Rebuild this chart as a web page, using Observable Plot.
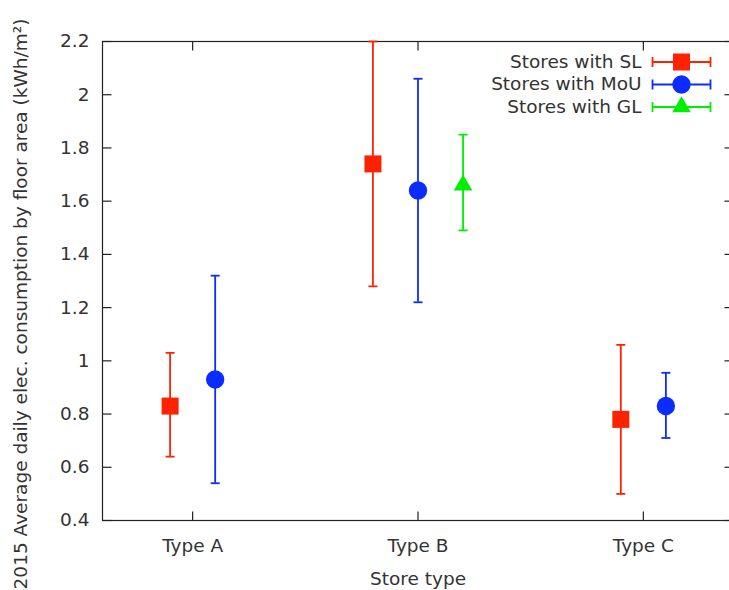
<!DOCTYPE html>
<html><head><meta charset="utf-8">
<script src="https://cdn.jsdelivr.net/npm/d3@7"></script>
<script src="https://cdn.jsdelivr.net/npm/@observablehq/plot@0.6"></script>
<style>
html,body{margin:0;padding:0;background:#fff;overflow:hidden}
</style></head><body><div id="chart"></div>
<script>
const categories = ["Type A", "Type B", "Type C"];
const seriesNames = ["Stores with SL", "Stores with MoU", "Stores with GL"];
const slMean = [0.83, 1.74, 0.78];
const slLow = [0.64, 1.28, 0.50];
const slHigh = [1.03, 2.20, 1.06];
const mouMean = [0.93, 1.64, 0.83];
const mouLow = [0.54, 1.22, 0.71];
const mouHigh = [1.32, 2.06, 0.955];
const glMean = [null, 1.66, null];
const glLow = [null, 1.49, null];
const glHigh = [null, 1.85, null];
const yTicks = [0.4, 0.6, 0.8, 1.0, 1.2, 1.4, 1.6, 1.8, 2.0, 2.2];
const yTickLabels = ["0.4", "0.6", "0.8", "1", "1.2", "1.4", "1.6", "1.8", "2", "2.2"];
const xLabel = "Store type";
const yLabel = "2015 Average daily elec. consumption by floor area (kWh/m²)";

const means = [slMean, mouMean, glMean];
const lows = [slLow, mouLow, glLow];
const highs = [slHigh, mouHigh, glHigh];
const colors = ["#ff2200", "#0a2cff", "#00ee00"];
const symbols = ["square", "circle", "triangle"];
const radii = [9.6, 9.2, 6.9];

// build rows; offset within each category derived from how many series it has
const rows = [];
categories.forEach((cat, c) => {
  const present = seriesNames.map((s, k) => k).filter(k => means[k][c] != null);
  present.forEach((k, j) => {
    rows.push({cat, series: k, x: c + 1 + (j - (present.length - 1) / 2) * 0.2,
      mean: means[k][c], low: lows[k][c], high: highs[k][c]});
  });
});

const xDomain = [0.6, 3.4];
const yDomain = [0.4, 2.2];
const T = 9;
const capSym = {draw(ctx) { ctx.moveTo(-4.5, 0); ctx.lineTo(4.5, 0); }};
const tickRight = {draw(ctx) { ctx.moveTo(0, 0); ctx.lineTo(T, 0); }};
const tickLeft = {draw(ctx) { ctx.moveTo(0, 0); ctx.lineTo(-T, 0); }};
const tickUp = {draw(ctx) { ctx.moveTo(0, 0); ctx.lineTo(0, -T); }};
const tickDown = {draw(ctx) { ctx.moveTo(0, 0); ctx.lineTo(0, T); }};
const legendBar = {draw(ctx) {
  ctx.moveTo(-29, 0); ctx.lineTo(29, 0);
  ctx.moveTo(-29, -5); ctx.lineTo(-29, 5);
  ctx.moveTo(29, -5); ctx.lineTo(29, 5);
}};

const marks = [
  Plot.frame({stroke: "#222", strokeWidth: 1.2}),
  Plot.dot(yTicks, {x: () => xDomain[0], y: d => d, symbol: tickRight, stroke: "#222", fill: "none", strokeWidth: 1.2}),
  Plot.dot(yTicks, {x: () => xDomain[1], y: d => d, symbol: tickLeft, stroke: "#222", fill: "none", strokeWidth: 1.2}),
  Plot.dot([1, 2, 3], {x: d => d, y: () => yDomain[0], symbol: tickUp, stroke: "#222", fill: "none", strokeWidth: 1.2}),
  Plot.dot([1, 2, 3], {x: d => d, y: () => yDomain[1], symbol: tickDown, stroke: "#222", fill: "none", strokeWidth: 1.2}),
  Plot.axisY(yTicks, {tickSize: 0, tickPadding: 13, tickFormat: (d, i) => yTickLabels[i], label: null}),
  Plot.axisX([1, 2, 3], {tickSize: 0, tickPadding: 18, tickFormat: d => categories[d - 1], label: null}),
  Plot.text([xLabel], {text: d => d, frameAnchor: "bottom", dy: 59, lineAnchor: "middle", textAnchor: "middle"}),
  Plot.text([yLabel], {text: d => d, frameAnchor: "left", rotate: -90, dx: -81, dy: 23, lineAnchor: "middle", textAnchor: "middle"})
];

seriesNames.forEach((name, k) => {
  const data = rows.filter(r => r.series === k);
  marks.push(
    Plot.ruleX(data, {x: "x", y1: "low", y2: "high", stroke: colors[k], strokeWidth: 1.8}),
    Plot.dot(data, {x: "x", y: "low", symbol: capSym, stroke: colors[k], fill: "none", strokeWidth: 1.8}),
    Plot.dot(data, {x: "x", y: "high", symbol: capSym, stroke: colors[k], fill: "none", strokeWidth: 1.8}),
    Plot.dot(data, {x: "x", y: "mean", symbol: symbols[k], fill: colors[k], r: radii[k]})
  );
  const dy = 20.5 + k * 22.5;
  marks.push(
    Plot.text([name], {text: d => d, frameAnchor: "top-right", dx: -92, dy, textAnchor: "end", lineAnchor: "middle"}),
    Plot.dot([name], {frameAnchor: "top-right", dx: -52, dy, symbol: legendBar, stroke: colors[k], fill: "none", strokeWidth: 1.8}),
    Plot.dot([name], {frameAnchor: "top-right", dx: -52, dy, symbol: symbols[k], fill: colors[k], r: radii[k]})
  );
});

const chart = Plot.plot({
  width: 729,
  height: 590,
  marginLeft: 102,
  marginRight: -4,
  marginTop: 41,
  marginBottom: 70,
  x: {domain: xDomain},
  y: {domain: yDomain},
  style: {fontFamily: "DejaVu Sans", fontSize: "18.5px", color: "#333", background: "#fff", overflow: "visible"},
  marks
});
document.getElementById("chart").appendChild(chart);
</script>
</body></html>
